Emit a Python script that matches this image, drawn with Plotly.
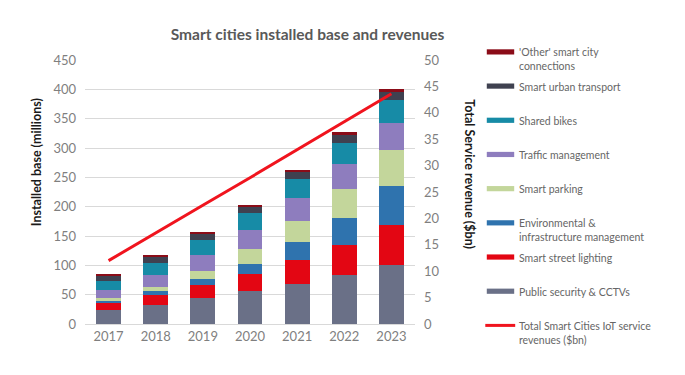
import plotly.graph_objects as go

years = ["2017", "2018", "2019", "2020", "2021", "2022", "2023"]

public_security = [24, 33, 45, 57, 69, 83, 100]
street_lighting = [12, 16, 21, 29, 40, 52, 68]
environmental = [4, 7, 11, 17, 30, 46, 68]
smart_parking = [4, 7, 13, 24, 36, 49, 60]
traffic_mgmt = [14, 20, 28, 34, 39, 43, 47]
shared_bikes = [15, 21, 25, 28, 33, 36, 38]
urban_transport = [10, 11, 11, 11, 12, 13, 14]
other_connections = [1, 2, 3, 3, 4, 5, 5]

revenue_bn = [12.0, 17.3, 22.5, 27.7, 33.0, 38.3, 43.6]

series_names = [
    "Public security & CCTVs",
    "Smart street lighting",
    "Environmental &<br>infrastructure management",
    "Smart parking",
    "Traffic management",
    "Shared bikes",
    "Smart urban transport",
    "'Other' smart city<br>connections",
]
series_values = [public_security, street_lighting, environmental, smart_parking,
                 traffic_mgmt, shared_bikes, urban_transport, other_connections]
series_colors = ["#6A7087", "#E30613", "#2F73AE", "#C3D69B",
                 "#8E7DBE", "#178BA6", "#3F4150", "#8B0C18"]
line_name = "Total Smart Cities IoT service<br>revenues ($bn)"
line_color = "#F0141E"

FONT = "Lato"
W, H = 685, 375
OFF = 8  # page body margin offset
L, R, T, B = 84.5 - OFF, 415.5 - OFF, 60.4 - OFF, 324.5 - OFF


def xp(px):
    return (px - OFF - L) / (R - L)


def yp(py):
    return (B - (py - OFF)) / (B - T)


fig = go.Figure()
for name, vals, col in zip(series_names, series_values, series_colors):
    fig.add_trace(go.Bar(x=years, y=vals, name=name, marker_color=col,
                         marker_line_width=0, showlegend=False))
fig.add_trace(go.Scatter(x=years, y=revenue_bn, name=line_name, yaxis="y2",
                         mode="lines", line=dict(color=line_color, width=3),
                         showlegend=False))

# manual legend (top to bottom: reversed stack order, then line)
shapes = []
annotations = []
legend_y0 = 52.3
step = 34.2
LEG_FONT = dict(family=FONT, size=10.5, color="#666666")
items = list(zip(series_names, series_colors))[::-1]
for i, (name, col) in enumerate(items):
    cy = legend_y0 + i * step
    shapes.append(dict(type="rect", xref="paper", yref="paper",
                       x0=xp(487.5), x1=xp(515), y0=yp(cy + 2.6), y1=yp(cy - 2.6),
                       fillcolor=col, line_width=0))
    annotations.append(dict(text=name, xref="paper", yref="paper",
                            x=xp(518), y=yp(cy - 7.5), xanchor="left", yanchor="top",
                            align="left", showarrow=False, font=LEG_FONT))
cy = legend_y0 + len(items) * step
shapes.append(dict(type="line", xref="paper", yref="paper",
                   x0=xp(486), x1=xp(516), y0=yp(cy), y1=yp(cy),
                   line=dict(color=line_color, width=3)))
annotations.append(dict(text=line_name, xref="paper", yref="paper",
                        x=xp(518), y=yp(cy - 7.5), xanchor="left", yanchor="top",
                        align="left", showarrow=False, font=LEG_FONT))

# axis titles
annotations.append(dict(text="<b>Installed base (millions)</b>", xref="paper", yref="paper",
                        x=xp(36), y=yp(163), textangle=-90, showarrow=False,
                        xanchor="center", yanchor="middle",
                        font=dict(family=FONT, size=12.5, color="#1a1a1a")))
annotations.append(dict(text="<b>Total Service revenue ($bn)</b>", xref="paper", yref="paper",
                        x=xp(470), y=yp(175), textangle=90, showarrow=False,
                        xanchor="center", yanchor="middle",
                        font=dict(family=FONT, size=12.5, color="#1a1a1a")))

fig.update_layout(
    width=W, height=H,
    margin=dict(l=L, r=W - R, t=T, b=H - B, pad=0),
    paper_bgcolor="white", plot_bgcolor="white",
    barmode="stack", bargap=0.47,
    title=dict(text="<b>Smart cities installed base and revenues</b>",
               x=(307.5 - OFF) / W, xanchor="center", y=1 - (35 - OFF) / H, yanchor="middle",
               font=dict(family=FONT, size=15.5, color="#595959")),
    font=dict(family=FONT, size=13, color="#7F7F7F"),
    xaxis=dict(type="category", showgrid=False, showline=True, linecolor="#D9D9D9",
               linewidth=1, ticks="", tickfont=dict(size=13, color="#7F7F7F")),
    yaxis=dict(range=[0, 450], dtick=50, showgrid=True, gridcolor="#D9D9D9",
               gridwidth=1, zeroline=False, showline=False, ticks="",
               tickfont=dict(size=13, color="#7F7F7F"), ticklabelstandoff=8),
    yaxis2=dict(range=[0, 50], dtick=5, overlaying="y", side="right",
                showgrid=False, zeroline=False, showline=False, ticks="",
                tickfont=dict(size=13, color="#7F7F7F"), ticklabelstandoff=8),
    shapes=shapes,
    annotations=annotations,
    showlegend=False,
)

fig.write_html("out.html")
